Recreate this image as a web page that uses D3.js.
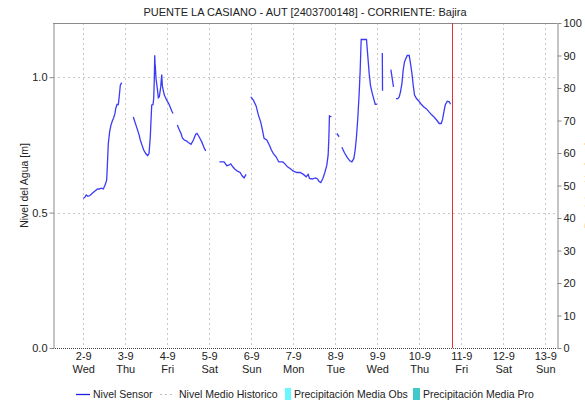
<!DOCTYPE html>
<html><head><meta charset="utf-8">
<script src="https://cdn.jsdelivr.net/npm/d3@7"></script>
<style>
html,body{margin:0;padding:0;background:#fff;}
svg{display:block;font-family:"Liberation Sans",Arial,sans-serif;}
</style></head>
<body><svg id="chart" width="585" height="401"></svg>
<script>
// ---- data ----
const title = "PUENTE LA CASIANO - AUT [2403700148] - CORRIENTE: Bajira";
const yLabel = "Nivel del Agua [m]";
const y2Label = "Precipitación [mm]";
const legendLabels = ["Nivel Sensor", "Nivel Medio Historico", "Precipitación Media Obs", "Precipitación Media Pro"];
const baseDate = "2020-09-02T00:00:00";          // reference for sensorDay
const windowStart = "2020-09-01T06:42:00";
const windowEnd = "2020-09-13T06:42:00";
const nowDay = 8.786;                              // red "now" marker (days since baseDate)
const tickDays = ["2020-09-02","2020-09-03","2020-09-04","2020-09-05","2020-09-06","2020-09-07",
                  "2020-09-08","2020-09-09","2020-09-10","2020-09-11","2020-09-12","2020-09-13"];
const yTicks = [0, 0.5, 1.0];
const y2Ticks = [0,10,20,30,40,50,60,70,80,90,100];
// sensor time in days since baseDate (null = gap)
const sensorDay = [
 0.00,0.04,0.07,0.11,0.16,0.22,0.28,0.34,0.38,0.43,0.477,0.517,0.557,0.572,0.596,0.629,0.66,0.691,0.724,0.755,0.772,0.803,0.834,0.851,0.867,0.882,0.915,
 null,
 1.191,1.28,1.327,1.358,1.392,1.439,1.487,1.534,1.565,1.596,1.613,1.63,1.661,1.677,1.692,1.701,1.709,1.716,1.732,1.763,1.787,1.811,1.844,1.868,1.882,1.899,1.93,1.987,2.042,2.106,2.137,
 null,
 2.24,2.28,2.328,2.359,2.406,2.464,2.502,2.566,2.621,2.678,2.709,2.757,2.821,2.883,2.916,
 null,
 3.242,3.352,3.417,3.464,3.512,3.559,3.607,3.67,3.734,3.781,3.829,3.877,
 null,
 3.988,4.05,4.115,4.17,4.227,4.258,4.305,4.37,4.432,4.479,4.527,4.591,4.656,4.751,4.813,4.861,4.925,5.004,5.085,5.163,5.242,5.306,5.354,5.385,5.449,5.528,5.576,5.609,5.656,5.704,5.752,5.799,5.83,5.847,5.861,5.909,
 null,
 6.037,6.092,
 null,
 6.157,6.219,6.283,6.347,6.395,6.443,6.474,6.505,6.538,6.569,6.593,6.617,6.743,6.776,6.807,6.838,6.872,6.903,6.951,6.99,
 null,
 7.12,7.125,
 null,
 7.324,7.362,7.386,
 null,
 7.444,7.491,7.522,7.553,7.587,7.617,7.648,7.681,7.713,7.76,7.791,7.825,7.856,7.887,7.934,7.982,8.046,8.11,8.172,8.237,8.301,8.363,8.427,8.475,8.523,8.554,8.586,8.618,8.666,8.714,8.745
];
const sensorLevel = [
 0.552,0.557,0.565,0.56,0.563,0.572,0.58,0.587,0.587,0.59,0.587,0.601,0.62,0.669,0.755,0.80,0.823,0.838,0.85,0.866,0.884,0.899,0.899,0.921,0.946,0.97,0.98,
 null,
 0.853,0.811,0.788,0.768,0.752,0.731,0.718,0.710,0.718,0.780,0.841,0.897,0.899,0.921,0.995,1.081,1.05,1.04,0.995,0.958,0.924,0.928,0.964,1.01,0.97,0.955,0.934,0.915,0.90,0.875,0.866,
 null,
 0.823,0.808,0.792,0.776,0.768,0.764,0.759,0.752,0.768,0.789,0.792,0.78,0.761,0.737,0.728,
 null,
 0.687,0.687,0.673,0.675,0.680,0.669,0.661,0.653,0.648,0.636,0.628,0.641,
 null,
 0.927,0.915,0.894,0.86,0.833,0.811,0.774,0.768,0.749,0.731,0.718,0.706,0.687,0.687,0.678,0.669,0.663,0.653,0.648,0.648,0.641,0.632,0.641,0.626,0.624,0.628,0.624,0.616,0.611,0.626,0.648,0.675,0.712,0.774,0.857,0.853,
 null,
 0.792,0.78,
 null,
 0.741,0.721,0.704,0.691,0.687,0.70,0.731,0.78,0.853,0.94,1.026,1.139,1.139,1.075,1.014,0.970,0.946,0.927,0.90,0.90,
 null,
 1.089,0.95,
 null,
 1.028,0.989,0.964,
 null,
 0.921,0.921,0.927,0.946,0.977,1.026,1.056,1.069,1.08,1.08,1.051,1.014,0.97,0.934,0.921,0.913,0.90,0.89,0.883,0.871,0.86,0.851,0.839,0.829,0.829,0.844,0.872,0.897,0.911,0.909,0.90
];

// ---- chart ----
const svg = d3.select("#chart");
const m = {left:53, right:28, top:23, bottom:53};
const W = 585, H = 401;
const x0 = m.left, x1 = W - m.right, yTop = m.top, yBot = H - m.bottom;
const base = new Date(baseDate);
const dayToDate = d => new Date(base.getTime() + d*864e5);

const x = d3.scaleTime().domain([new Date(windowStart), new Date(windowEnd)]).range([x0, x1]);
const y = d3.scaleLinear().domain([0, 1.2]).range([yBot, yTop]);
const y2 = d3.scaleLinear().domain([0, 100]).range([yBot, yTop]);
const tickDates = tickDays.map(s => new Date(s + "T00:00:00"));

const axisColor = "#8a8a8a", textColor = "#222", gridColor = "#c8c8c8";

// title
svg.append("text").attr("x", (x0+x1)/2).attr("y", 16).attr("text-anchor","middle")
  .attr("font-size", 11).attr("fill", textColor).text(title);

// grid
const g = svg.append("g");
g.selectAll("line.vg").data(tickDates).join("line")
  .attr("x1", d => Math.round(x(d))+0.5).attr("x2", d => Math.round(x(d))+0.5)
  .attr("y1", yTop).attr("y2", yBot)
  .attr("stroke", gridColor).attr("stroke-dasharray","2,3");
g.selectAll("line.hg").data(yTicks.filter(v => v > 0)).join("line")
  .attr("x1", x0).attr("x2", x1)
  .attr("y1", d => Math.round(y(d))+0.5).attr("y2", d => Math.round(y(d))+0.5)
  .attr("stroke", gridColor).attr("stroke-dasharray","2,3");

// frame
svg.append("line").attr("x1", x0).attr("x2", x1).attr("y1", yTop+0.5).attr("y2", yTop+0.5).attr("stroke", axisColor);
svg.append("line").attr("x1", x0).attr("x2", x1).attr("y1", yBot+0.5).attr("y2", yBot+0.5)
  .attr("stroke", "#444").attr("stroke-dasharray","1,1");

// left axis
const ax = svg.append("g").attr("transform", `translate(${x0+0.5},0)`)
  .call(d3.axisLeft(y).tickValues(yTicks).tickFormat(d3.format(".1f")).tickSize(4).tickSizeOuter(0));
ax.select(".domain").attr("stroke", axisColor);
ax.selectAll(".tick line").attr("stroke", axisColor);
ax.selectAll(".tick text").attr("font-size", 11).attr("fill", textColor).attr("font-family","Liberation Sans, Arial, sans-serif").attr("x", -6);

// right axis
const ax2 = svg.append("g").attr("transform", `translate(${x1+0.5},0)`)
  .call(d3.axisRight(y2).tickValues(y2Ticks).tickSize(4).tickSizeOuter(0));
ax2.select(".domain").attr("stroke", axisColor);
ax2.selectAll(".tick line").attr("stroke", axisColor);
ax2.selectAll(".tick text").attr("font-size", 11).attr("fill", textColor).attr("font-family","Liberation Sans, Arial, sans-serif").attr("x", 6);

// x axis labels
const xl = svg.append("g");
const fmtDay = d3.timeFormat("%-d-%-m"), fmtWd = d3.timeFormat("%a");
tickDates.forEach(d => {
  const t = xl.append("text").attr("x", x(d)+0.5).attr("text-anchor","middle").attr("font-size", 11).attr("fill", textColor);
  t.append("tspan").attr("x", x(d)+0.5).attr("y", 360).text(fmtDay(d));
  t.append("tspan").attr("x", x(d)+0.5).attr("y", 373).text(fmtWd(d));
});

// axis titles
svg.append("text").attr("transform", `translate(28,${(yTop+yBot)/2}) rotate(-90)`)
  .attr("text-anchor","middle").attr("font-size", 10.5).attr("fill", textColor).text(yLabel);
svg.append("text").attr("transform", `translate(593,${(yTop+yBot)/2}) rotate(-90)`)
  .attr("text-anchor","middle").attr("font-size", 10.5).attr("fill", textColor).text(y2Label);

// sensor line
const pts = sensorDay.map((d,i) => ({t: d == null ? null : dayToDate(d), v: sensorLevel[i]}));
const line = d3.line().defined(d => d.v != null && d.t != null).x(d => x(d.t)).y(d => y(d.v));
svg.append("path").datum(pts).attr("d", line).attr("fill","none")
  .attr("stroke", "#3b3bf7").attr("stroke-width", 1.3);

// now marker
const nx = Math.round(x(dayToDate(nowDay))) + 0.5;
svg.append("line").attr("x1", nx).attr("x2", nx).attr("y1", yTop).attr("y2", yBot)
  .attr("stroke", "#e83030").attr("stroke-width", 1);

// legend
const lg = svg.append("g").attr("font-size", 10.5).attr("fill", textColor);
const ly = 394;
lg.append("line").attr("x1", 76).attr("x2", 90).attr("y1", ly+0.5).attr("y2", ly+0.5).attr("stroke", "#2020e0").attr("stroke-width", 1.3);
lg.append("text").attr("x", 93).attr("y", ly+4).attr("fill", textColor).text(legendLabels[0]);
lg.append("line").attr("x1", 160).attr("x2", 175).attr("y1", ly+0.5).attr("y2", ly+0.5).attr("stroke", "#bbb").attr("stroke-dasharray","2,3");
lg.append("text").attr("x", 179).attr("y", ly+4).attr("fill", textColor).text(legendLabels[1]);
lg.append("rect").attr("x", 285).attr("y", ly-6).attr("width", 6).attr("height", 12).attr("fill", "#6cf6ff");
lg.append("text").attr("x", 294).attr("y", ly+4).attr("fill", textColor).text(legendLabels[2]);
lg.append("rect").attr("x", 413).attr("y", ly-6).attr("width", 7).attr("height", 12).attr("fill", "#3fc9c9");
lg.append("text").attr("x", 423).attr("y", ly+4).attr("fill", textColor).text(legendLabels[3]);
</script></body></html>
